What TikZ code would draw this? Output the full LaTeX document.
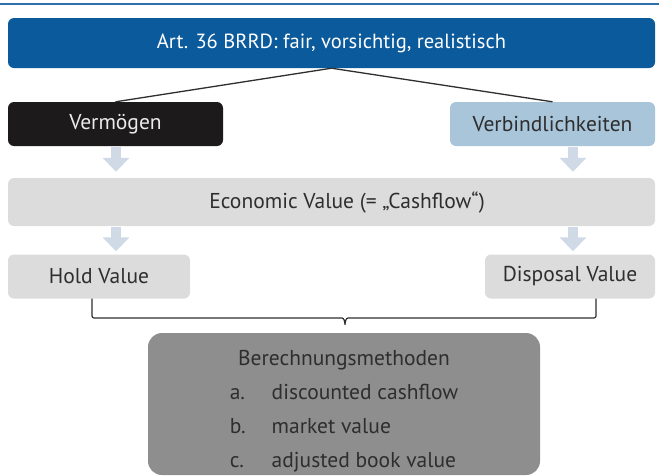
\documentclass[tikz,border=0pt]{standalone}
\usepackage{fontspec}
\setmainfont{PT Sans}
\usetikzlibrary{arrows.meta,positioning}

\definecolor{brrdblue}{HTML}{0B5A9C}
\definecolor{rulecolor}{HTML}{2F6FAD}
\definecolor{assetblack}{HTML}{1C1A1B}
\definecolor{liabblue}{HTML}{A9C5DA}
\definecolor{valuegray}{HTML}{DCDCDC}
\definecolor{methodgray}{HTML}{8E8E8E}
\definecolor{flowblue}{HTML}{D0DAE6}
\definecolor{textgray}{HTML}{2E2E2E}

\begin{document}
\begin{tikzpicture}[
        x=1pt, y=-1pt,
        box/.style={
            rectangle,
            rounded corners=6pt,
            minimum height=44pt,
            inner sep=0pt,
            align=center,
            font=\fontsize{21.5}{26}\selectfont
        },
        headbox/.style={
            box,
            fill=brrdblue,
            text=white,
            minimum width=647pt,
            minimum height=50pt,
            font=\fontsize{20.5}{25}\selectfont
        },
        assetbox/.style={
            box,
            fill=assetblack,
            text=white!92!black,
            minimum width=215pt
        },
        liabbox/.style={
            box,
            fill=liabblue,
            text=textgray,
            minimum width=205pt
        },
        valuebox/.style={
            box,
            fill=valuegray,
            text=textgray
        },
        methodbox/.style={
            rectangle,
            rounded corners=14pt,
            fill=methodgray,
            minimum width=392pt,
            minimum height=142pt
        },
        link/.style={
            draw=textgray,
            line width=1.3pt
        },
        flow/.style={
            -{Triangle[width=26pt,length=14pt]},
            line width=10pt,
            draw=flowblue
        },
        brace/.style={
            draw=textgray,
            line width=1.2pt,
            rounded corners=2pt
        }
    ]

    \useasboundingbox (0,0) rectangle (659,475);
    \draw[rulecolor, line width=2pt] (0,4) -- (659,4);

    \node (art) [headbox] at (331.5,43) {Art. 36 BRRD: fair, vorsichtig, realistisch};

    \node (verm) [assetbox] at (115.5,124) {Vermögen};
    \node (verb) [liabbox] at (552.5,124) {Verbindlichkeiten};

    \node (econ) [valuebox, minimum width=647pt, minimum height=48pt] at (331.5,202) {\hspace*{31pt}Economic Value (= „Cashflow“)};

    \node (hold) [valuebox, minimum width=182pt] at (99,276.5) {Hold Value};
    \node (disp) [valuebox, minimum width=170pt] at (570,276.5) {Disposal Value};

    \node (calc) [methodbox] at (344,404) {};
    \node (calctext) [text=textgray, font=\fontsize{21.5}{34}\selectfont, anchor=north] at ([yshift=-5pt]calc.north) {%
        \begin{tabular}{@{}l@{\hspace{26pt}}l@{}}
            \multicolumn{2}{c}{Berechnungsmethoden}\\
            a. & discounted cashflow\\
            b. & market value\\
            c. & adjusted book value
        \end{tabular}};

    \coordinate (lcol) at (116,0);
    \coordinate (rcol) at (573,0);
    \coordinate (tip) at (345,326);

    \draw [link] (art.south) -- (verm.north);
    \draw [link] (art.south) -- (verb.north);

    \draw [flow, shorten <=1pt, shorten >=6pt] (verm.south -| lcol) -- (econ.north -| lcol);
    \draw [flow, shorten <=1pt, shorten >=6pt] (verb.south -| rcol) -- (econ.north -| rcol);
    \draw [flow, shorten <=1pt, shorten >=3pt] (econ.south -| lcol) -- (hold.north -| lcol);
    \draw [flow, shorten <=1pt, shorten >=3pt] (econ.south -| rcol) -- (disp.north -| rcol);

    \draw [brace] ([xshift=-7pt]hold.south) |- ([xshift=-5pt,yshift=8pt]tip)
        .. controls ([xshift=-1pt,yshift=8pt]tip) and ([yshift=4pt]tip) .. (tip)
        .. controls ([yshift=4pt]tip) and ([xshift=1pt,yshift=8pt]tip) .. ([xshift=5pt,yshift=8pt]tip)
        -| ([xshift=26pt]disp.south);

\end{tikzpicture}
\end{document}
